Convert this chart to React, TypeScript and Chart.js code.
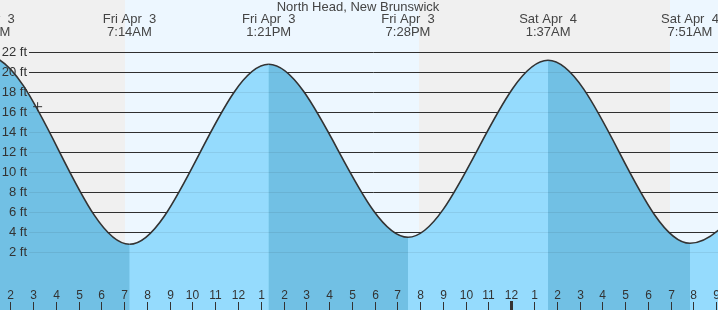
import React, { useEffect, useRef } from "react";
import { Chart, registerables } from "chart.js";

Chart.register(...registerables);

// Hours since midnight, Fri Apr 3
const tideTimes = [-5.1, 1.02, 7.233, 13.35, 19.467, 25.617, 31.85, 38.1];
const tideHeights = [3.0, 21.6, 2.8, 20.8, 3.5, 21.2, 2.9, 21.0];
const tideDayLabels = ["Thu Apr  2", "Fri Apr  3", "Fri Apr  3", "Fri Apr  3", "Fri Apr  3", "Sat Apr  4", "Sat Apr  4", "Sat Apr  4"];
const tideTimeLabels = ["6:54PM", "1:01AM", "7:14AM", "1:21PM", "7:28PM", "1:37AM", "7:51AM", "2:06PM"];

const nowTimes = [3.2];
const nowHeights = [16.56];

const dayStarts = [7.03, 30.99];
const dayEnds = [19.93, 43.0];

const hourTickValues = [2, 3, 4, 5, 6, 7, 8, 9, 10, 11, 12, 13, 14, 15, 16, 17, 18, 19, 20, 21, 22, 23, 24, 25, 26, 27, 28, 29, 30, 31, 32, 33];
const hourTickLabels = ["2", "3", "4", "5", "6", "7", "8", "9", "10", "11", "12", "1", "2", "3", "4", "5", "6", "7", "8", "9", "10", "11", "12", "1", "2", "3", "4", "5", "6", "7", "8", "9"];
const midnightTicks = [24];

const yTickValues = [2, 4, 6, 8, 10, 12, 14, 16, 18, 20, 22];
const yTickLabels = ["2 ft", "4 ft", "6 ft", "8 ft", "10 ft", "12 ft", "14 ft", "16 ft", "18 ft", "20 ft", "22 ft"];

const TITLE = "North Head, New Brunswick";

const X_MIN = 1.548;
const X_MAX = 33.08;
const Y_MIN = -3.77;
const Y_MAX = 27.23;

const FONT = '"Liberation Sans", Arial, Helvetica, sans-serif';
const LIGHT_FILL = "#95dbfd";
const DARK_FILL = "#71c0e4";
const NIGHT_BG = "#f0f0f0";
const DAY_BG = "#edf7ff";
const INK = "#333333";

const decorPlugin = {
  id: "tideDecor",
  beforeDatasetsDraw(chart: any) {
    const { ctx, chartArea } = chart;
    const xs = chart.scales.x;
    const ys = chart.scales.y;
    ctx.save();
    ctx.fillStyle = NIGHT_BG;
    ctx.fillRect(chartArea.left, chartArea.top, chartArea.right - chartArea.left, chartArea.bottom - chartArea.top);
    ctx.fillStyle = DAY_BG;
    for (let i = 0; i < dayStarts.length; i++) {
      const a = Math.round(xs.getPixelForValue(dayStarts[i]));
      const b = Math.round(xs.getPixelForValue(Math.min(dayEnds[i], X_MAX + 1)));
      ctx.fillRect(a, chartArea.top, b - a, chartArea.bottom - chartArea.top);
    }
    ctx.strokeStyle = INK;
    ctx.lineWidth = 1;
    for (const v of yTickValues) {
      const py = Math.round(ys.getPixelForValue(v)) + 0.5;
      ctx.beginPath();
      ctx.moveTo(29, py);
      ctx.lineTo(chartArea.right, py);
      ctx.stroke();
    }
    ctx.restore();
  },
  afterDatasetsDraw(chart: any) {
    const { ctx, chartArea } = chart;
    const xs = chart.scales.x;
    const ys = chart.scales.y;
    ctx.save();
    // faint grid lines visible through the water
    ctx.strokeStyle = "rgba(0,0,0,0.07)";
    ctx.lineWidth = 1;
    for (const v of yTickValues) {
      const py = Math.round(ys.getPixelForValue(v)) + 0.5;
      ctx.beginPath();
      ctx.moveTo(29, py);
      ctx.lineTo(chartArea.right, py);
      ctx.stroke();
    }
    // y labels
    ctx.fillStyle = INK;
    ctx.font = `13px ${FONT}`;
    ctx.textAlign = "right";
    ctx.textBaseline = "middle";
    for (let i = 0; i < yTickValues.length; i++) {
      const py = ys.getPixelForValue(yTickValues[i]);
      ctx.fillText(yTickLabels[i], 27, py + 0.5);
    }
    // title
    ctx.fillStyle = "#444444";
    ctx.textAlign = "center";
    ctx.fillText(TITLE, 358, 7.5);
    // tide extreme labels
    for (let i = 0; i < tideTimes.length; i++) {
      const px = xs.getPixelForValue(tideTimes[i]);
      if (px < -80 || px > chartArea.right + 80) continue;
      ctx.fillText(tideDayLabels[i], px, 19.5);
      ctx.fillText(tideTimeLabels[i], px, 32);
    }
    // bottom hour ticks
    ctx.fillStyle = INK;
    ctx.font = `12px ${FONT}`;
    ctx.textAlign = "center";
    ctx.textBaseline = "middle";
    for (let i = 0; i < hourTickValues.length; i++) {
      const v = hourTickValues[i];
      const px = Math.round(xs.getPixelForValue(v));
      const isMid = midnightTicks.includes(v);
      if (isMid) {
        ctx.fillRect(px - 1, 301, 3, chartArea.bottom - 301);
      } else {
        ctx.fillRect(px, 302, 1, chartArea.bottom - 302);
      }
      ctx.fillText(hourTickLabels[i], px + 0.5, 296);
    }
    ctx.restore();
  },
};

export default function App() {
  const canvasRef = useRef<HTMLCanvasElement | null>(null);

  useEffect(() => {
    document.body.style.margin = "0";
    const canvas = canvasRef.current;
    if (!canvas) return;
    const tideData = tideTimes.map((t, i) => ({ x: t, y: tideHeights[i] }));
    const nowData = nowTimes.map((t, i) => ({ x: t, y: nowHeights[i] }));
    const chart = new Chart(canvas, {
      type: "line",
      data: {
        datasets: [
          {
            data: nowData,
            showLine: false,
            pointStyle: "cross",
            pointRadius: 4.5,
            pointBorderWidth: 1,
            borderColor: INK,
            backgroundColor: INK,
            order: 0,
          } as any,
          {
            data: tideData,
            borderColor: INK,
            borderWidth: 1.6,
            pointRadius: 0,
            cubicInterpolationMode: "monotone",
            fill: "start",
            backgroundColor: DARK_FILL,
            segment: {
              backgroundColor: (c: any) => (c.p1.parsed.y > c.p0.parsed.y ? LIGHT_FILL : DARK_FILL),
            },
            order: 1,
          } as any,
          {
            // underlay so that segment seams do not show the background
            data: tideData,
            borderWidth: 0,
            borderColor: "rgba(0,0,0,0)",
            pointRadius: 0,
            cubicInterpolationMode: "monotone",
            fill: "start",
            backgroundColor: "#80cdf0",
            order: 2,
          } as any,
        ],
      },
      options: {
        animation: false,
        responsive: false,
        maintainAspectRatio: false,
        devicePixelRatio: 1,
        layout: { padding: 0, autoPadding: false },
        elements: { line: { capBezierPoints: false } },
        plugins: {
          legend: { display: false },
          title: { display: false },
          tooltip: { enabled: false },
        },
        scales: {
          x: { type: "linear", min: X_MIN, max: X_MAX, display: false },
          y: { type: "linear", min: Y_MIN, max: Y_MAX, display: false },
        },
      },
      plugins: [decorPlugin],
    });
    return () => chart.destroy();
  }, []);

  return (
    <div style={{ width: 718, height: 310 }}>
      <canvas ref={canvasRef} width={718} height={310} style={{ display: "block" }} />
    </div>
  );
}
